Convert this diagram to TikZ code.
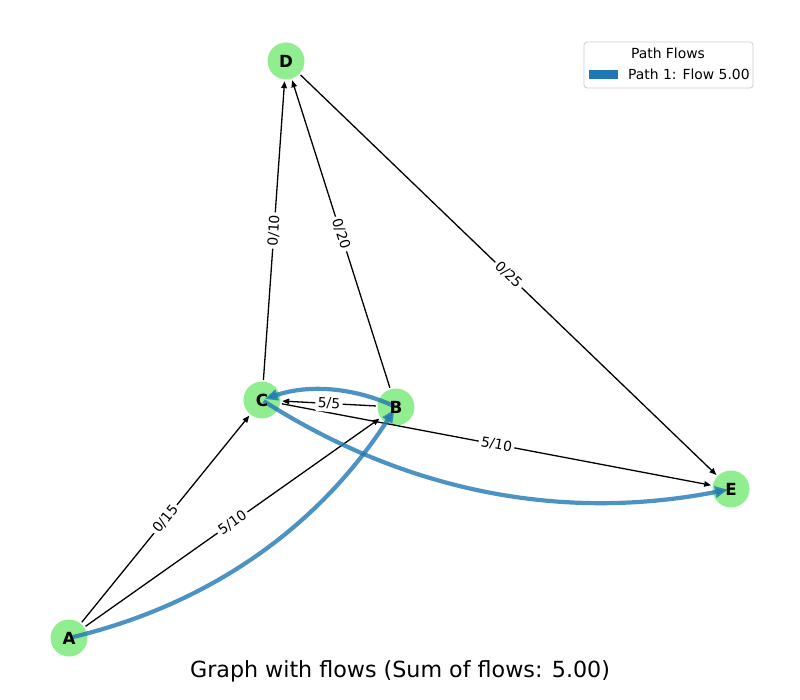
\documentclass[tikz,border=0pt]{standalone}
\usepackage{fontspec}
\setmainfont{DejaVu Sans}
\usetikzlibrary{arrows.meta}
\definecolor{nodegreen}{HTML}{90EE90}
\definecolor{flowblue}{HTML}{1F77B4}
\definecolor{legborder}{HTML}{CCCCCC}
\tikzset{
  vtx/.style={circle, fill=nodegreen, minimum size=37pt, inner sep=0pt},
  vlab/.style={font=\fontsize{16.7}{18}\selectfont\bfseries, inner sep=0pt},
  edge/.style={draw=black, line width=1.3pt, -{Triangle[length=7pt,width=5.5pt]}, shorten >=1.5pt, shorten <=1.5pt},
  elab/.style={fill=white, rounded corners=2pt, inner sep=2.5pt, font=\fontsize{13.9}{15}\selectfont, sloped, midway},
  flow/.style={draw=flowblue, draw opacity=0.8, fill opacity=0.8, line width=4.2pt, -{Triangle[length=13pt,width=11pt,fill=flowblue]}, shorten >=3pt, shorten <=2pt},
}
\begin{document}
\begin{tikzpicture}[x=1pt, y=-1pt]
\useasboundingbox (0,0) rectangle (800,700);
% vertices
\node[vtx] (A) at (69,638) {};
\node[vtx] (B) at (396,407) {};
\node[vtx] (C) at (262,400) {};
\node[vtx] (D) at (286,61) {};
\node[vtx] (E) at (731,489) {};
% capacity edges
\draw[edge] (A) -- node[elab] {0/15} (C);
\draw[edge] (A) -- node[elab] {5/10} (B);
\draw[edge] (C) -- node[elab] {0/10} (D);
\draw[edge] (B) -- node[elab] {0/20} (D);
\draw[edge] (D) -- node[elab] {0/25} (E);
\draw[edge] (C) -- node[elab] {5/10} (E);
\draw[edge] (B) -- node[elab] {5/5} (C);
% flow path
\draw[flow] (A.center) .. controls (209,604.7) and (318,527.7) .. (B.center);
\draw[flow] (B.center) .. controls (352.3,386.8) and (307.6,384.5) .. (C.center);
\draw[flow] (C.center) .. controls (406.5,492.2) and (562.8,521.9) .. (E.center);
% vertex labels
\node[vlab] at (A) {A};
\node[vlab] at (B) {B};
\node[vlab] at (C) {C};
\node[vlab] at (D) {D};
\node[vlab] at (E) {E};
% legend
\node[draw=legborder, fill=white, rounded corners=3pt, minimum width=169pt, minimum height=46pt, line width=0.8pt] (leg) at (668.5,65) {};
\node[font=\fontsize{13.9}{15}\selectfont, inner sep=0pt] (legtitle) at (668,53) {Path Flows};
\node[fill=flowblue, minimum width=29pt, minimum height=9pt, inner sep=0pt] (legpatch) at (603.5,74.5) {};
\node[font=\fontsize{13.9}{15}\selectfont, inner sep=0pt, anchor=west] (legtext) at (628,74) {Path 1: Flow 5.00};
% title
\node[font=\fontsize{22.2}{24}\selectfont, inner sep=0pt] (title) at (400,671) {Graph with flows (Sum of flows: 5.00)};
\end{tikzpicture}
\end{document}
